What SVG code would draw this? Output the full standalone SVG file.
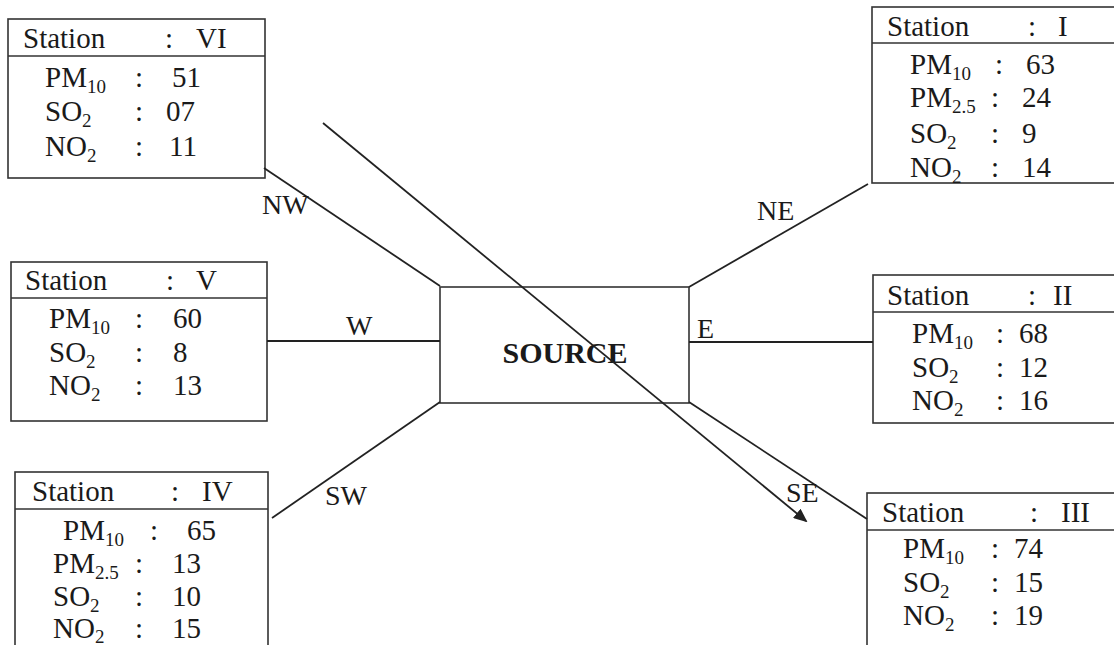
<svg xmlns="http://www.w3.org/2000/svg" width="1114" height="645" viewBox="0 0 1114 645">
<style>
.box{fill:#fff;stroke:#333;stroke-width:1.6}
.div{stroke:#333;stroke-width:1.6}
.t{font-family:"Liberation Serif","Times New Roman",serif;font-size:29px;fill:#1a1a1a}
.s{font-size:19px}
.lbl{font-family:"Liberation Serif","Times New Roman",serif;font-size:28px;fill:#1a1a1a}
.src{font-family:"Liberation Serif","Times New Roman",serif;font-size:30px;font-weight:bold;fill:#1a1a1a}
.ln{stroke:#222;stroke-width:1.8;fill:none}
</style>
<defs>
<marker id="ah" markerWidth="14" markerHeight="12" refX="12" refY="6" orient="auto" markerUnits="userSpaceOnUse">
<path d="M0,0 L14,6 L0,12 Z" fill="#222"/>
</marker>
</defs>
<rect width="1114" height="645" fill="#fff"/>

<g id="source">
<rect class="box" x="440" y="287" width="249" height="116"/>
<text class="src" x="565" y="363" text-anchor="middle">SOURCE</text>
</g>

<g id="station-VI">
<rect class="box" x="8" y="19" width="257" height="159"/>
<line class="div" x1="8" y1="56" x2="265" y2="56"/>
<text class="t" x="23" y="48">Station</text>
<text class="t" x="165" y="48">:</text>
<text class="t" x="196" y="48">VI</text>
<text class="t" x="45" y="87">PM<tspan class="s" dy="6">10</tspan></text>
<text class="t" x="135" y="87">:</text>
<text class="t" x="172" y="87">51</text>
<text class="t" x="45" y="121">SO<tspan class="s" dy="6">2</tspan></text>
<text class="t" x="135" y="121">:</text>
<text class="t" x="166" y="121">07</text>
<text class="t" x="45" y="156">NO<tspan class="s" dy="6">2</tspan></text>
<text class="t" x="135" y="156">:</text>
<text class="t" x="169" y="156">11</text>
</g>

<g id="station-V">
<rect class="box" x="11" y="262" width="256" height="159"/>
<line class="div" x1="11" y1="298" x2="267" y2="298"/>
<text class="t" x="25" y="290">Station</text>
<text class="t" x="166" y="290">:</text>
<text class="t" x="196" y="290">V</text>
<text class="t" x="49" y="328">PM<tspan class="s" dy="6">10</tspan></text>
<text class="t" x="135" y="328">:</text>
<text class="t" x="173" y="328">60</text>
<text class="t" x="49" y="362">SO<tspan class="s" dy="6">2</tspan></text>
<text class="t" x="135" y="362">:</text>
<text class="t" x="173" y="362">8</text>
<text class="t" x="49" y="395">NO<tspan class="s" dy="6">2</tspan></text>
<text class="t" x="135" y="395">:</text>
<text class="t" x="173" y="395">13</text>
</g>

<g id="station-IV">
<rect class="box" x="15" y="472" width="253" height="190"/>
<line class="div" x1="15" y1="509" x2="268" y2="509"/>
<text class="t" x="32" y="501">Station</text>
<text class="t" x="171" y="501">:</text>
<text class="t" x="202" y="501">IV</text>
<text class="t" x="63" y="540">PM<tspan class="s" dy="6">10</tspan></text>
<text class="t" x="150" y="540">:</text>
<text class="t" x="187" y="540">65</text>
<text class="t" x="53" y="573">PM<tspan class="s" dy="6">2.5</tspan></text>
<text class="t" x="135" y="573">:</text>
<text class="t" x="172" y="573">13</text>
<text class="t" x="53" y="606">SO<tspan class="s" dy="6">2</tspan></text>
<text class="t" x="135" y="606">:</text>
<text class="t" x="172" y="606">10</text>
<text class="t" x="53" y="638">NO<tspan class="s" dy="5">2</tspan></text>
<text class="t" x="135" y="638">:</text>
<text class="t" x="172" y="638">15</text>
</g>

<g id="station-I">
<rect class="box" x="872" y="7" width="260" height="176"/>
<line class="div" x1="872" y1="43" x2="1114" y2="43"/>
<text class="t" x="887" y="36">Station</text>
<text class="t" x="1028" y="36">:</text>
<text class="t" x="1058" y="36">I</text>
<text class="t" x="910" y="74">PM<tspan class="s" dy="6">10</tspan></text>
<text class="t" x="995" y="74">:</text>
<text class="t" x="1026" y="74">63</text>
<text class="t" x="910" y="107">PM<tspan class="s" dy="6">2.5</tspan></text>
<text class="t" x="991" y="107">:</text>
<text class="t" x="1022" y="107">24</text>
<text class="t" x="910" y="143">SO<tspan class="s" dy="6">2</tspan></text>
<text class="t" x="991" y="143">:</text>
<text class="t" x="1022" y="143">9</text>
<text class="t" x="910" y="177">NO<tspan class="s" dy="6">2</tspan></text>
<text class="t" x="991" y="177">:</text>
<text class="t" x="1022" y="177">14</text>
</g>

<g id="station-II">
<rect class="box" x="873" y="275" width="260" height="148"/>
<line class="div" x1="873" y1="312" x2="1114" y2="312"/>
<text class="t" x="887" y="305">Station</text>
<text class="t" x="1028" y="305">:</text>
<text class="t" x="1053" y="305">II</text>
<text class="t" x="912" y="343">PM<tspan class="s" dy="6">10</tspan></text>
<text class="t" x="996" y="343">:</text>
<text class="t" x="1019" y="343">68</text>
<text class="t" x="912" y="377">SO<tspan class="s" dy="6">2</tspan></text>
<text class="t" x="996" y="377">:</text>
<text class="t" x="1019" y="377">12</text>
<text class="t" x="912" y="410">NO<tspan class="s" dy="6">2</tspan></text>
<text class="t" x="996" y="410">:</text>
<text class="t" x="1019" y="410">16</text>
</g>

<g id="station-III">
<rect class="box" x="867" y="493" width="260" height="170"/>
<line class="div" x1="867" y1="530" x2="1114" y2="530"/>
<text class="t" x="882" y="522">Station</text>
<text class="t" x="1030" y="522">:</text>
<text class="t" x="1061" y="522">III</text>
<text class="t" x="903" y="558">PM<tspan class="s" dy="6">10</tspan></text>
<text class="t" x="991" y="558">:</text>
<text class="t" x="1014" y="558">74</text>
<text class="t" x="903" y="592">SO<tspan class="s" dy="6">2</tspan></text>
<text class="t" x="991" y="592">:</text>
<text class="t" x="1014" y="592">15</text>
<text class="t" x="903" y="625">NO<tspan class="s" dy="6">2</tspan></text>
<text class="t" x="991" y="625">:</text>
<text class="t" x="1014" y="625">19</text>
</g>

<g id="connectors">
<line class="ln" x1="264" y1="168" x2="440" y2="286"/>
<line class="ln" x1="267" y1="341" x2="440" y2="341"/>
<line class="ln" x1="272" y1="518" x2="440" y2="402"/>
<line class="ln" x1="689" y1="287" x2="868" y2="184"/>
<line class="ln" x1="689" y1="342" x2="873" y2="342"/>
<line class="ln" x1="689" y1="402" x2="867" y2="519"/>
<line class="ln" x1="323" y1="123" x2="806" y2="521" marker-end="url(#ah)"/>
<text class="lbl" x="262" y="214">NW</text>
<text class="lbl" x="346" y="335">W</text>
<text class="lbl" x="325" y="505">SW</text>
<text class="lbl" x="757" y="220">NE</text>
<text class="lbl" x="697" y="338">E</text>
<text class="lbl" x="786" y="502">SE</text>
</g>
</svg>
